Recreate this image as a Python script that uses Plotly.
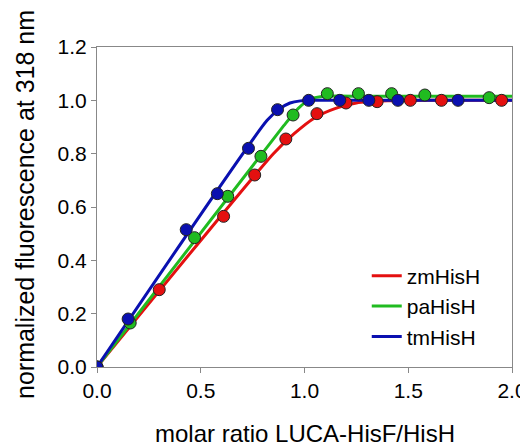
import plotly.graph_objects as go

# measured points
zm_x = [0.0, 0.30, 0.61, 0.76, 0.91, 1.06, 1.20, 1.35, 1.51, 1.66, 1.95]
zm_y = [0.0, 0.29, 0.565, 0.72, 0.855, 0.95, 0.99, 0.995, 1.0, 1.0, 1.0]
pa_x = [0.0, 0.16, 0.47, 0.63, 0.79, 0.945, 1.11, 1.26, 1.42, 1.58, 1.89]
pa_y = [0.0, 0.165, 0.485, 0.64, 0.79, 0.945, 1.025, 1.025, 1.025, 1.02, 1.01]
tm_x = [0.0, 0.15, 0.43, 0.58, 0.73, 0.87, 1.02, 1.17, 1.31, 1.45, 1.74]
tm_y = [0.0, 0.18, 0.515, 0.65, 0.82, 0.965, 1.0, 1.0, 1.0, 1.0, 1.0]

# fitted curves
zm_fit_x = [0.0, 0.85, 0.95, 1.05, 1.15, 1.25, 1.4, 1.6, 2.0]
zm_fit_y = [0.0, 0.80, 0.875, 0.935, 0.97, 0.99, 0.998, 1.0, 1.0]
pa_fit_x = [0.0, 0.9, 0.97, 1.03, 1.1, 1.3, 2.0]
pa_fit_y = [0.0, 0.905, 0.97, 1.005, 1.015, 1.015, 1.015]
tm_fit_x = [0.0, 0.82, 0.88, 0.93, 0.98, 1.05, 2.0]
tm_fit_y = [0.0, 0.925, 0.968, 0.99, 0.998, 1.0, 1.0]

names = ["zmHisH", "paHisH", "tmHisH"]
colors = ["#e41010", "#20bb20", "#0a10b0"]

FONT = "Liberation Sans, Arial"

fig = go.Figure()
fits = [(zm_fit_x, zm_fit_y), (pa_fit_x, pa_fit_y), (tm_fit_x, tm_fit_y)]
pts = [(zm_x, zm_y), (pa_x, pa_y), (tm_x, tm_y)]
for (fx, fy), n, c in zip(fits, names, colors):
    fig.add_trace(go.Scatter(x=fx, y=fy, mode="lines", name=n,
                             line=dict(color=c, width=3, shape="spline", smoothing=0.6)))
for (px, py), n, c in zip(pts, names, colors):
    fig.add_trace(go.Scatter(x=px, y=py, mode="markers", showlegend=False,
                             marker=dict(color=c, size=12, line=dict(color="#222222", width=1))))

axis_common = dict(showline=True, linecolor="#888888", linewidth=1.2, mirror=True,
                   ticks="outside", tickcolor="#888888", ticklen=5, showgrid=False,
                   zeroline=False, automargin=False,
                   tickfont=dict(family=FONT, size=21, color="black"))
fig.update_xaxes(range=[0, 2.0], dtick=0.5, tickformat=".1f", **axis_common)
fig.update_yaxes(range=[0, 1.2], dtick=0.2, tickformat=".1f", **axis_common)

fig.add_annotation(text="molar ratio LUCA-HisF/HisH", xref="paper", yref="paper",
                   x=0.5, y=0, yshift=-81, xanchor="center", yanchor="bottom",
                   borderpad=0, showarrow=False,
                   font=dict(family=FONT, size=24, color="black"))
fig.add_annotation(text="normalized fluorescence at 318 nm", xref="paper", yref="paper",
                   x=0, y=0.5, xshift=-72, yshift=2, xanchor="center", yanchor="middle",
                   textangle=-90, showarrow=False, font=dict(family=FONT, size=25, color="black"))

fig.update_layout(width=520, height=440, margin=dict(l=89, r=16, t=39, b=81),
                  plot_bgcolor="white", paper_bgcolor="white",
                  legend=dict(x=0.65, y=0.348, xanchor="left", yanchor="top",
                              bgcolor="rgba(0,0,0,0)",
                              font=dict(family=FONT, size=21, color="black"),
                              tracegroupgap=0))
fig.write_html("out.html")
